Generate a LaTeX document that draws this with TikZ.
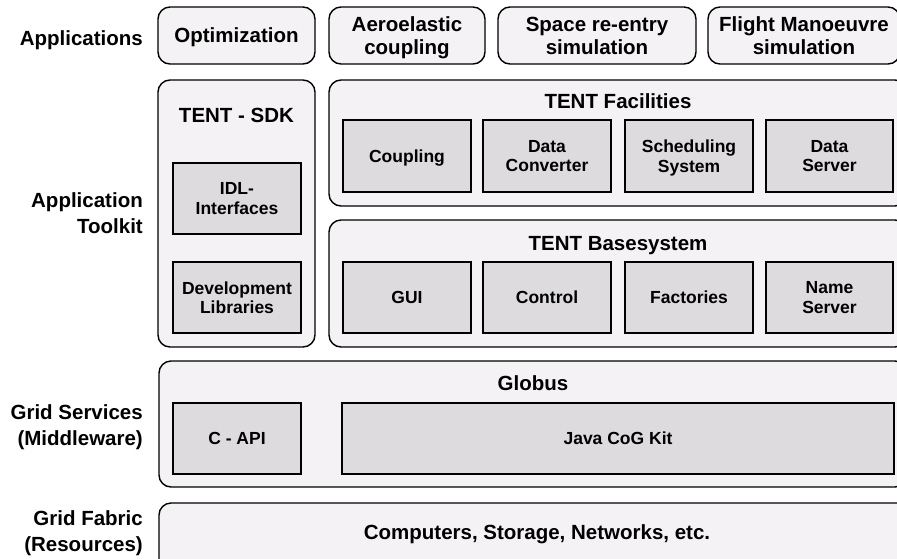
\documentclass[tikz,border=0pt]{standalone}
\usepackage{fontspec}
\setmainfont{Liberation Sans}
\usetikzlibrary{fit}
\definecolor{outerfill}{RGB}{245,242,245}
\definecolor{innerfill}{RGB}{222,219,222}
\begin{document}
\begin{tikzpicture}[x=1pt,y=-1pt,
  outerbox/.style={draw=black, line width=1.4pt, fill=outerfill, rounded corners=12pt, inner sep=0pt},
  innerbox/.style={draw=black, line width=1.4pt, fill=innerfill, inner sep=0pt},
  bigtext/.style={font=\bfseries\fontsize{20.5}{23}\selectfont, align=center, inner sep=0pt, text depth=0pt},
  smalltext/.style={font=\bfseries\fontsize{17.5}{19.5}\selectfont, align=center, inner sep=0pt, text depth=0pt},
  layer/.style={font=\bfseries\fontsize{20.5}{26}\selectfont, align=right, anchor=east, inner sep=0pt, text depth=0pt}]
\clip (0,0) rectangle (897,558);
\fill[white] (0,0) rectangle (897,558);

% layer labels
\node[layer] (lapp) at (143,38) {Applications};
\node[layer] (ltool) at (143,213) {Application\\Toolkit};
\node[layer] (lgrid) at (143,425) {Grid Services\\(Middleware)};
\node[layer] (lfab) at (143,531) {Grid Fabric\\(Resources)};

% applications
\node[outerbox, fit={(158,7) (315,64)}] (opt) {};
\node[bigtext] at (opt.center) {Optimization};
\node[outerbox, fit={(329,7) (485,64)}] (aero) {};
\node[bigtext] at (aero.center) {Aeroelastic\\coupling};
\node[outerbox, fit={(498,7) (696,64)}] (space) {};
\node[bigtext] at (space.center) {Space re-entry\\simulation};
\node[outerbox, fit={(708,7) (900,64)}] (flight) {};
\node[bigtext] at (flight.center) {Flight Manoeuvre\\simulation};

% toolkit
\node[outerbox, fit={(158,80) (315,347)}] (sdk) {};
\node[bigtext] (sdkt) at (236.5,115) {TENT - SDK};
\node[innerbox, fit={(173,163) (301,234)}] (idl) {};
\node[smalltext] at (idl.center) {IDL-\\Interfaces};
\node[innerbox, fit={(173,262) (301,333)}] (dev) {};
\node[smalltext] at (dev.center) {Development\\Libraries};

\node[outerbox, fit={(329,80) (907,206)}] (fac) {};
\node[bigtext] (fact) at (618,101) {TENT Facilities};
\node[innerbox, fit={(343,120) (471,192)}] (coup) {};
\node[smalltext] at (coup.center) {Coupling};
\node[innerbox, fit={(483,120) (611,192)}] (conv) {};
\node[smalltext] at (conv.center) {Data\\Converter};
\node[innerbox, fit={(625,120) (753,192)}] (sched) {};
\node[smalltext] at (sched.center) {Scheduling\\System};
\node[innerbox, fit={(766,120) (893,192)}] (dserv) {};
\node[smalltext] at (dserv.center) {Data\\Server};

\node[outerbox, fit={(329,220) (907,347)}] (base) {};
\node[bigtext] (baset) at (618,243) {TENT Basesystem};
\node[innerbox, fit={(343,262) (471,333)}] (gui) {};
\node[smalltext] at (gui.center) {GUI};
\node[innerbox, fit={(483,262) (611,333)}] (ctrl) {};
\node[smalltext] at (ctrl.center) {Control};
\node[innerbox, fit={(625,262) (753,333)}] (fact2) {};
\node[smalltext] at (fact2.center) {Factories};
\node[innerbox, fit={(766,262) (893,333)}] (nserv) {};
\node[smalltext] at (nserv.center) {Name\\Server};

% grid services
\node[outerbox, fit={(159,361) (907,487)}] (globus) {};
\node[bigtext] (globt) at (533,383) {Globus};
\node[innerbox, fit={(173,403) (301,474)}] (capi) {};
\node[smalltext] at (capi.center) {C - API};
\node[innerbox, fit={(342,403) (894,474)}] (java) {};
\node[smalltext] at (java.center) {Java CoG Kit};

% fabric
\node[outerbox, fit={(159,503) (915,575)}] (fab) {};
\node[bigtext] (fabt) at (537,532) {Computers, Storage, Networks, etc.};
\end{tikzpicture}
\end{document}
